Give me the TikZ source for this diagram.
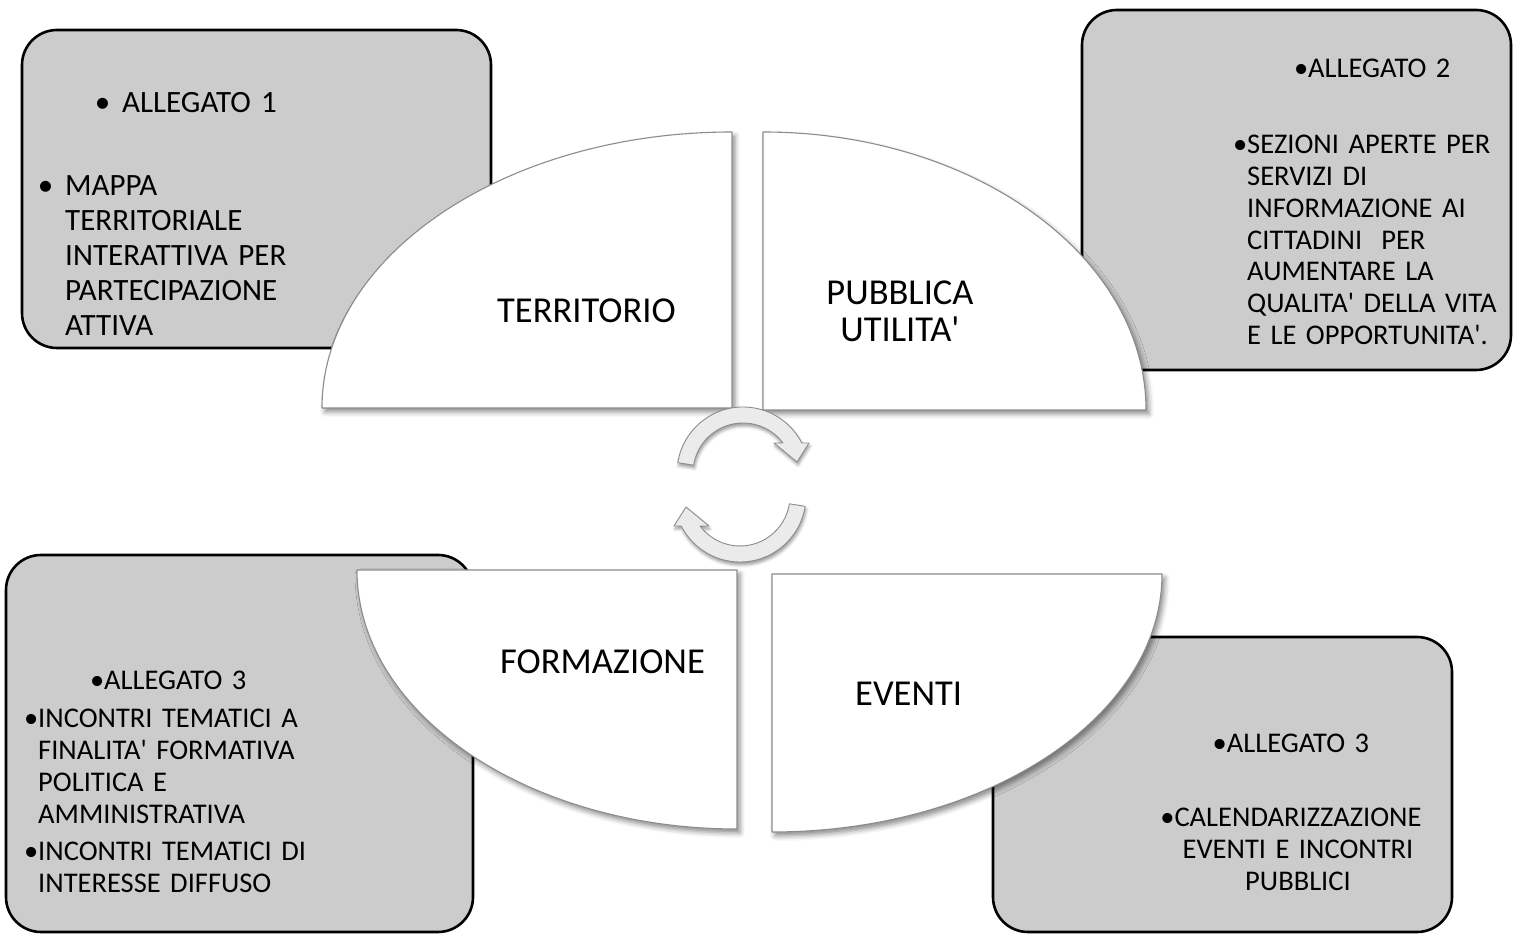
\documentclass[tikz,border=0pt]{standalone}
\usepackage{fontspec}
\newfontfamily\carlito{Carlito}
\usetikzlibrary{shadows.blur}
\setlength{\parindent}{0pt}
\begin{document}
\begin{tikzpicture}[x=1pt,y=1pt,line join=round,line cap=round,
	box/.style={draw=black,line width=2.6pt,fill=black!20,rounded corners=35pt},
	quarter/.style={draw=black!45,line width=1.1pt,fill=white,
		blur shadow={shadow xshift=3pt,shadow yshift=-4pt,shadow blur radius=5pt,shadow opacity=45}},
	cyc/.style={draw=black!45,line width=.9pt,fill=black!8,
		blur shadow={shadow xshift=1pt,shadow yshift=-3pt,shadow blur radius=3pt,shadow opacity=40}},
	big/.style={font=\carlito\fontsize{36.5}{37}\selectfont,inner sep=0pt},
	lbl/.style={font=\carlito\fontsize{28.5}{31.7}\selectfont,inner sep=0pt,text width=#1},
	lbl/.default=400pt]
	\useasboundingbox (0,0) rectangle (1513,934);
	% gray boxes
	\draw[box] (22,586) rectangle (491,904);
	\draw[box] (1082,564) rectangle (1511,924);
	\draw[box] (6,2) rectangle (473,379);
	\draw[box] (993,2) rectangle (1452,297);
	% quarters
	\draw[quarter] (732,526) -- (322,526) arc[start angle=180,end angle=90,x radius=410,y radius=276] -- cycle;
	\draw[quarter] (763,524) -- (763,802) arc[start angle=90,end angle=0,x radius=383,y radius=278] -- cycle;
	\draw[quarter] (737,364) -- (357,364) arc[start angle=180,end angle=270,x radius=380,y radius=259] -- cycle;
	\draw[quarter] (772,360) -- (1162,360) arc[start angle=0,end angle=-90,x radius=390,y radius=258] -- cycle;
	% circular arrows
	\draw[cyc,shift={(743,461)}] (171:66) arc[start angle=171,end angle=27,radius=66]
		-- (66,30) -- (54,11) -- (31,30) -- (37:50) arc[start angle=37,end angle=171,radius=50] -- cycle;
	\draw[cyc,shift={(740,438)}] (351:66) arc[start angle=351,end angle=207,radius=66]
		-- (-66,-30) -- (-54,-11) -- (-31,-30) -- (217:50) arc[start angle=217,end angle=351,radius=50] -- cycle;
	% titles
	\node[big,anchor=base west] (terr) at (497,611) {TERRITORIO};
	\node[big,anchor=base,text width=260pt,align=center] (pubb) at (900,629) {PUBBLICA\\UTILITA'};
	\node[big,anchor=base west] (form) at (500,260) {FORMAZIONE};
	\node[big,anchor=base west] (even) at (855,228) {EVENTI};
	% box texts
	\node[lbl,font=\carlito\fontsize{31}{35}\selectfont,anchor=base west] (all1) at (122,821) {\llap{•\hspace{12pt}}ALLEGATO 1};
	\node[lbl,font=\carlito\fontsize{31}{35}\selectfont,anchor=base west,align=left] (mappa) at (65,738)
		{\llap{•\hspace{12pt}}MAPPA\\TERRITORIALE\\INTERATTIVA PER\\PARTECIPAZIONE\\ATTIVA};
	\node[lbl,anchor=base west] (all2) at (1308,856) {\llap{•}ALLEGATO 2};
	\node[lbl=300pt,anchor=base west,align=left] (sez) at (1247,780)
		{\llap{•}SEZIONI APERTE PER\\SERVIZI DI\\INFORMAZIONE AI\\CITTADINI\ \ PER\\AUMENTARE LA\\QUALITA' DELLA VITA\\E LE OPPORTUNITA'.};
	\node[lbl,anchor=base west] (all3a) at (104,244) {\llap{•}ALLEGATO 3};
	\node[lbl,anchor=base west,align=left] (inc) at (38,206)
		{\llap{•}INCONTRI TEMATICI A\\FINALITA' FORMATIVA\\POLITICA E\\AMMINISTRATIVA\\[6pt]\leavevmode\llap{•}INCONTRI TEMATICI DI\\INTERESSE DIFFUSO};
	\node[lbl=300pt,anchor=base,align=center] (all3b) at (1298,181) {\llap{•}ALLEGATO 3};
	\node[lbl=300pt,anchor=base,align=center] (cal) at (1298,107)
		{\llap{•}CALENDARIZZAZIONE\\EVENTI E INCONTRI\\PUBBLICI};
\end{tikzpicture}
\end{document}
